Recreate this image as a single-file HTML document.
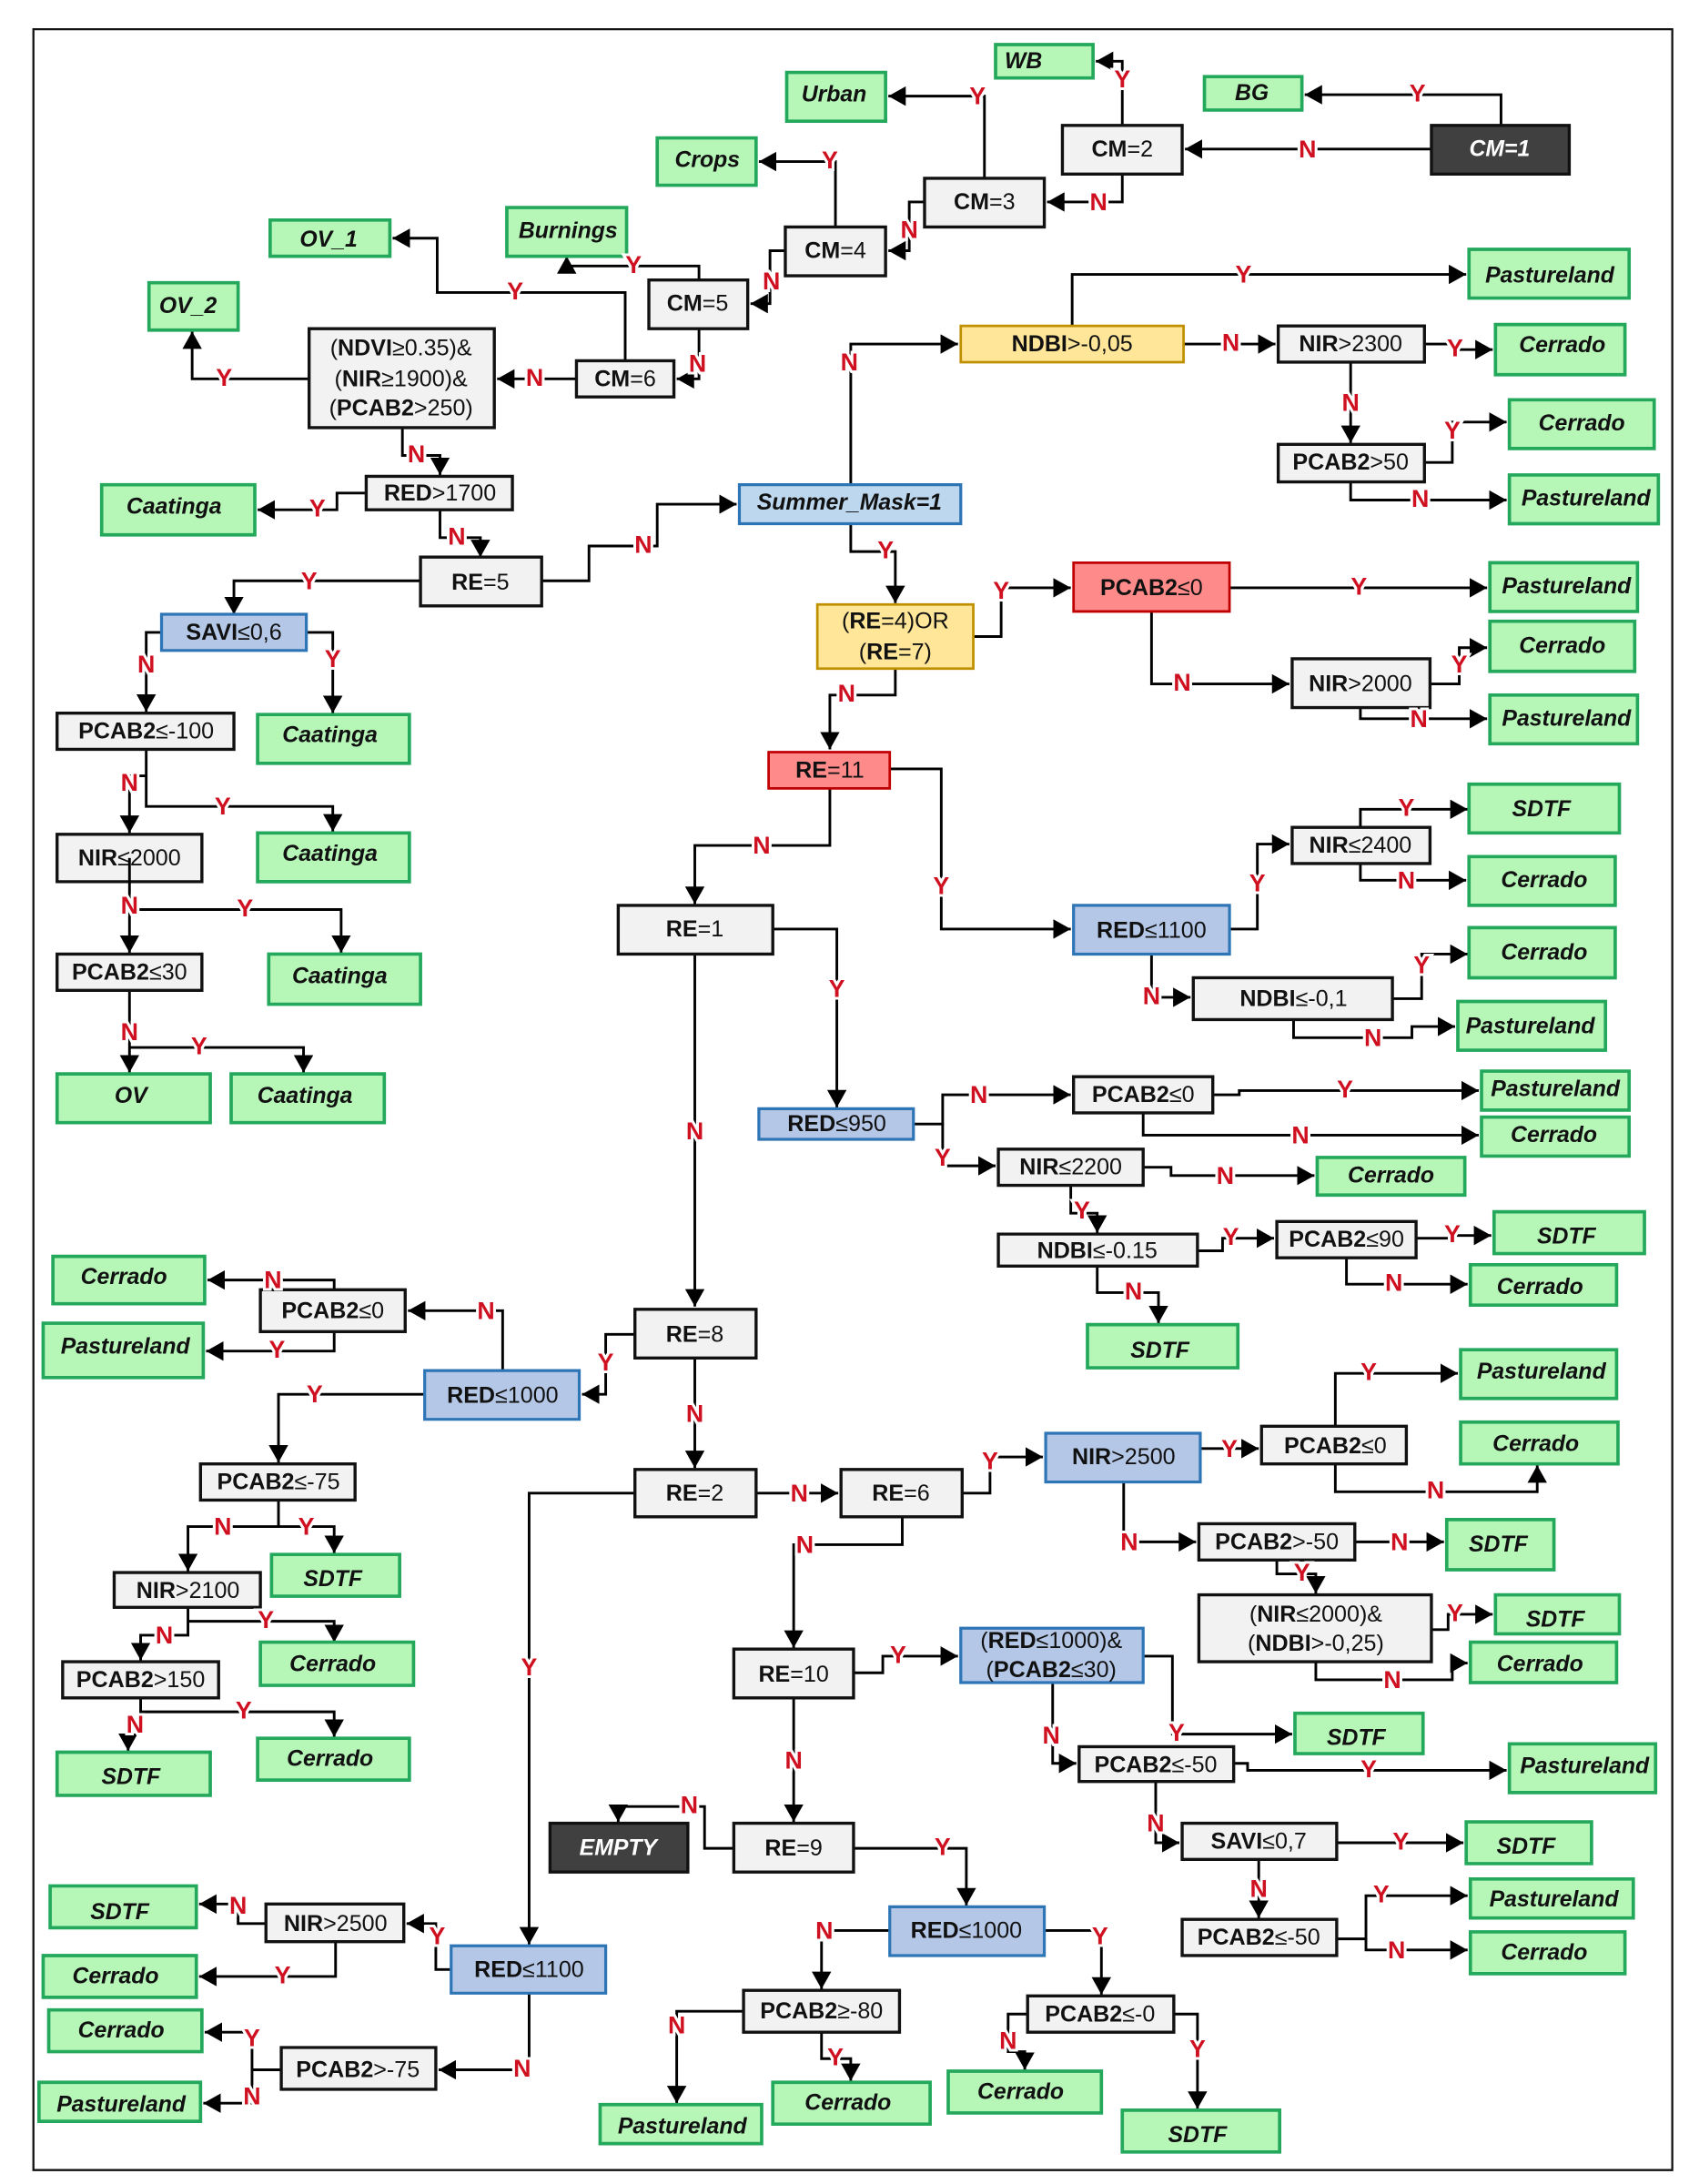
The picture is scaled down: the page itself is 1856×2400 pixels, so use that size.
<!DOCTYPE html>
<html><head><meta charset="utf-8"><style>
html,body{margin:0;padding:0;background:#fff}
svg{display:block;width:1856px;height:2400px}
text{font-family:"Liberation Sans",sans-serif;font-size:16.4px;text-anchor:middle;dominant-baseline:central;fill:#111}
.c path{fill:none;stroke:#000;stroke-width:1.9;marker-end:url(#a)}
.n path{fill:none;stroke:#000;stroke-width:1.9}
.g path{fill:#b6f7b8;stroke:#23a85c;stroke-width:2.4}
.w path{fill:#f2f2f2;stroke:#111;stroke-width:2.2}
.b path{fill:#b4c7e7;stroke:#2e75b6;stroke-width:2.1}
.y path{fill:#ffe699;stroke:#bf9000;stroke-width:1.8}
.r path{fill:#ff8a8a;stroke:#c00000;stroke-width:1.8}
.d path{fill:#404040;stroke:#111;stroke-width:2.2}
.gt text{font-weight:700;font-style:italic;font-size:16.2px}
.l text{font-weight:700;font-size:17.5px;fill:#cf1020;stroke:#fff;stroke-width:4;paint-order:stroke}
</style></head><body>
<svg xmlns="http://www.w3.org/2000/svg" viewBox="0 0 1213 1568" preserveAspectRatio="none">
<defs><marker id="a" markerUnits="userSpaceOnUse" markerWidth="13" markerHeight="14" refX="12.5" refY="7" orient="auto"><path d="M0 0L12.5 7L0 14Z" fill="#000"/></marker></defs>
<rect width="1213" height="1568" fill="#fff"/>
<path d="M24 21H1201V1558H24Z" fill="none" stroke="#111" stroke-width="1.5"/>

<g class="c">
<path d="M1078 90V68H937"/><path d="M1028 107H851"/><path d="M806 90V44H787"/><path d="M806 125V145H752"/>
<path d="M707 128V69H638"/><path d="M664 145H653V180H638"/><path d="M600 163V116H545"/><path d="M564 180H553V218H539"/>
<path d="M502 201V191H407V184"/><path d="M502 236V272H486"/><path d="M449 259V210H314V171H282"/><path d="M414 272H357"/>
<path d="M222 272H138V238"/><path d="M289 307V327H316V341"/><path d="M263 354H242V366H185"/><path d="M316 366V386H345V400"/>
<path d="M302 417H168V441"/><path d="M389 417H423V392H472V362H529"/><path d="M116 454H105V511"/><path d="M220 454H239V512"/>
<path d="M105 538V579H239V597"/><path d="M105 557H93V598"/><path d="M93 653H245V684"/><path d="M93 653V684"/>
<path d="M93 711V770"/><path d="M93 752H218V770"/><path d="M611 348V247H688"/><path d="M770 234V197H1053"/>
<path d="M850 247H916"/><path d="M1023 247H1043V251H1072"/><path d="M970 260V318"/><path d="M1023 332H1043V303H1082"/>
<path d="M970 346V359H1082"/><path d="M611 376V396H643V433"/><path d="M699 457H719V422H769"/><path d="M883 422H1068"/>
<path d="M827 439V491H926"/><path d="M1027 491H1048V465H1068"/><path d="M977 508V516H1068"/><path d="M643 480V499H596V538"/>
<path d="M596 566V607H499V649"/><path d="M639 552H676V667H769"/><path d="M883 667H903V606H926"/><path d="M977 594V581H1054"/>
<path d="M977 620V632H1053"/><path d="M827 685V716H855"/><path d="M1000 717H1021V685H1054"/><path d="M929 732V745H1014V737H1045"/>
<path d="M499 685V938"/><path d="M555 667H601V795"/><path d="M656 807H677V786H769"/><path d="M677 807V837H715"/>
<path d="M871 786H890V783H1062"/><path d="M821 799V815H1062"/><path d="M821 838H841V844H944"/><path d="M769 851V871H788V885"/>
<path d="M860 898H878V889H915"/><path d="M1017 889H1043V887H1071"/><path d="M967 903V922H1054"/><path d="M788 909V928H832V950"/>
<path d="M456 958H435V1001H418"/><path d="M499 975V1054"/><path d="M361 984V941H293"/><path d="M240 926V919H149"/>
<path d="M240 956V970H148"/><path d="M305 1001H200V1050"/><path d="M200 1077V1096H135V1128"/><path d="M200 1096H240V1115"/>
<path d="M135 1154V1174H101V1192"/><path d="M135 1164H240V1179"/><path d="M101 1219V1229H240V1247"/><path d="M92 1246V1257"/>
<path d="M456 1072H380V1396"/><path d="M543 1072H602"/><path d="M691 1072H711V1046H749"/><path d="M648 1089V1109H570V1183"/>
<path d="M862 1040H904"/><path d="M959 1024V986H1047"/><path d="M959 1051V1071H1104V1052"/><path d="M807 1064V1107H859"/>
<path d="M973 1107H1037"/><path d="M917 1120V1130H945V1144"/><path d="M1028 1170H1040V1159H1072"/><path d="M945 1193V1206H1043V1194H1054"/>
<path d="M613 1201H634V1189H688"/><path d="M821 1189H842V1245H928"/><path d="M756 1208V1266H773"/><path d="M886 1266H896V1271H1082"/>
<path d="M830 1279V1323H847"/><path d="M960 1323H1051"/><path d="M904 1335V1377"/><path d="M960 1392H981V1361H1054"/>
<path d="M981 1392V1400H1054"/><path d="M570 1219V1308"/><path d="M527 1327H506V1297H444V1308"/><path d="M613 1327H694V1368"/>
<path d="M639 1386H590V1428"/><path d="M750 1386H791V1432"/><path d="M534 1444H486V1510"/><path d="M590 1459V1478H611V1494"/>
<path d="M738 1446H724V1473H736V1486"/><path d="M843 1446H860V1514"/><path d="M324 1414H313V1381H292"/><path d="M380 1431V1486H315"/>
<path d="M191 1381H171V1367H143"/><path d="M241 1394V1419H143"/><path d="M202 1486H181V1459H147"/><path d="M181 1486V1510H146"/>
</g>

<g class="g">
<path d="M715 32H785V56H715Z"/><path d="M565 52H636V87H565Z"/><path d="M865 55H935V79H865Z"/><path d="M472 99H543V133H472Z"/>
<path d="M364 149H450V184H364Z"/><path d="M194 158H280V184H194Z"/><path d="M107 203H171V237H107Z"/><path d="M1055 179H1170V214H1055Z"/>
<path d="M1074 233H1167V269H1074Z"/><path d="M1084 287H1188V322H1084Z"/><path d="M1084 341H1191V376H1084Z"/><path d="M1070 404H1176V439H1070Z"/>
<path d="M1070 446H1174V482H1070Z"/><path d="M1070 499H1176V534H1070Z"/><path d="M73 348H183V384H73Z"/><path d="M185 513H294V548H185Z"/>
<path d="M185 598H294V633H185Z"/><path d="M193 685H302V721H193Z"/><path d="M41 771H151V806H41Z"/><path d="M166 771H276V806H166Z"/>
<path d="M1055 563H1163V598H1055Z"/><path d="M1055 615H1160V650H1055Z"/><path d="M1055 666H1160V702H1055Z"/><path d="M1047 719H1153V754H1047Z"/>
<path d="M1064 769H1170V797H1064Z"/><path d="M1064 802H1170V830H1064Z"/><path d="M946 831H1052V858H946Z"/><path d="M1073 870H1181V900H1073Z"/>
<path d="M1056 908H1161V937H1056Z"/><path d="M781 951H889V982H781Z"/><path d="M1049 969H1161V1004H1049Z"/><path d="M1049 1021H1162V1051H1049Z"/>
<path d="M1039 1091H1116V1127H1039Z"/><path d="M1074 1145H1163V1173H1074Z"/><path d="M1056 1179H1161V1208H1056Z"/><path d="M930 1230H1022V1259H930Z"/>
<path d="M1084 1252H1189V1287H1084Z"/><path d="M1053 1308H1143V1338H1053Z"/><path d="M1056 1349H1173V1377H1056Z"/><path d="M1056 1387H1167V1417H1056Z"/>
<path d="M38 902H147V936H38Z"/><path d="M31 950H146V989H31Z"/><path d="M195 1116H287V1146H195Z"/><path d="M187 1179H297V1210H187Z"/>
<path d="M185 1248H294V1278H185Z"/><path d="M41 1258H151V1289H41Z"/><path d="M36 1354H141V1384H36Z"/><path d="M31 1404H141V1434H31Z"/>
<path d="M35 1443H145V1473H35Z"/><path d="M28 1495H144V1523H28Z"/><path d="M431 1511H547V1539H431Z"/><path d="M555 1495H668V1525H555Z"/>
<path d="M681 1487H791V1517H681Z"/><path d="M806 1515H919V1545H806Z"/>
</g>
<g class="w">
<path d="M763 90H849V125H763Z"/><path d="M664 128H750V163H664Z"/><path d="M564 163H636V198H564Z"/><path d="M466 201H537V236H466Z"/>
<path d="M414 259H484V285H414Z"/><path d="M222 236H355V307H222Z"/><path d="M263 342H368V366H263Z"/><path d="M302 400H389V435H302Z"/>
<path d="M41 512H168V538H41Z"/><path d="M41 599H145V633H41Z"/><path d="M41 685H145V711H41Z"/><path d="M918 234H1023V260H918Z"/>
<path d="M918 319H1023V346H918Z"/><path d="M928 473H1027V508H928Z"/><path d="M928 594H1027V620H928Z"/><path d="M857 702H1000V732H857Z"/>
<path d="M444 650H555V685H444Z"/><path d="M771 773H871V799H771Z"/><path d="M717 825H821V851H717Z"/><path d="M717 886H860V909H717Z"/>
<path d="M917 877H1017V903H917Z"/><path d="M456 940H543V975H456Z"/><path d="M187 926H291V956H187Z"/><path d="M144 1051H255V1077H144Z"/>
<path d="M82 1129H187V1154H82Z"/><path d="M45 1193H157V1219H45Z"/><path d="M456 1055H543V1089H456Z"/><path d="M604 1055H691V1089H604Z"/>
<path d="M906 1024H1010V1051H906Z"/><path d="M861 1094H973V1120H861Z"/><path d="M861 1145H1028V1193H861Z"/><path d="M527 1184H613V1219H527Z"/>
<path d="M775 1254H886V1279H775Z"/><path d="M849 1309H960V1335H849Z"/><path d="M849 1378H960V1404H849Z"/><path d="M527 1309H613V1344H527Z"/>
<path d="M191 1367H290V1394H191Z"/><path d="M202 1470H313V1500H202Z"/><path d="M534 1429H646V1459H534Z"/><path d="M738 1433H843V1459H738Z"/>
</g>
<g class="b">
<path d="M116 441H220V467H116Z"/><path d="M531 348H690V376H531Z" style="fill:#bdd7ee"/><path d="M771 650H883V685H771Z"/><path d="M545 796H656V818H545Z"/>
<path d="M305 984H416V1019H305Z"/><path d="M751 1029H862V1064H751Z"/><path d="M690 1169H821V1208H690Z"/><path d="M324 1397H435V1431H324Z"/><path d="M639 1369H750V1404H639Z"/>
</g>
<g class="y"><path d="M690 234H850V260H690Z"/><path d="M587 434H699V480H587Z"/></g>
<g class="r"><path d="M771 404H883V439H771Z"/><path d="M552 540H639V566H552Z"/></g>
<g class="d"><path d="M1028 90H1127V125H1028Z"/><path d="M395 1309H494V1344H395Z"/></g>

<g class="gt">
<text x="735" y="44">WB</text><text x="599" y="68">Urban</text><text x="899" y="67">BG</text><text x="508" y="115">Crops</text>
<text x="408" y="166">Burnings</text><text x="236" y="172">OV_1</text><text x="135" y="220">OV_2</text><text x="1113" y="198">Pastureland</text>
<text x="1122" y="248">Cerrado</text><text x="1136" y="304">Cerrado</text><text x="1139" y="358">Pastureland</text><text x="1125" y="421">Pastureland</text>
<text x="1122" y="464">Cerrado</text><text x="1125" y="516">Pastureland</text><text x="125" y="364">Caatinga</text><text x="237" y="528">Caatinga</text>
<text x="237" y="613">Caatinga</text><text x="244" y="701">Caatinga</text><text x="94" y="787">OV</text><text x="219" y="787">Caatinga</text>
<text x="1107" y="581">SDTF</text><text x="1109" y="632">Cerrado</text><text x="1109" y="684">Cerrado</text><text x="1099" y="737">Pastureland</text>
<text x="1117" y="782">Pastureland</text><text x="1116" y="815">Cerrado</text><text x="999" y="844">Cerrado</text><text x="1125" y="888">SDTF</text>
<text x="1106" y="924">Cerrado</text><text x="833" y="970">SDTF</text><text x="1107" y="985">Pastureland</text><text x="1103" y="1037">Cerrado</text>
<text x="1076" y="1109">SDTF</text><text x="1117" y="1163">SDTF</text><text x="1106" y="1195">Cerrado</text><text x="974" y="1248">SDTF</text>
<text x="1138" y="1268">Pastureland</text><text x="1096" y="1326">SDTF</text><text x="1116" y="1364">Pastureland</text><text x="1109" y="1402">Cerrado</text>
<text x="89" y="917">Cerrado</text><text x="90" y="967">Pastureland</text><text x="239" y="1134">SDTF</text><text x="239" y="1195">Cerrado</text>
<text x="237" y="1263">Cerrado</text><text x="94" y="1276">SDTF</text><text x="86" y="1373">SDTF</text><text x="83" y="1419">Cerrado</text>
<text x="87" y="1458">Cerrado</text><text x="87" y="1511">Pastureland</text><text x="490" y="1527">Pastureland</text><text x="609" y="1510">Cerrado</text>
<text x="733" y="1502">Cerrado</text><text x="860" y="1533">SDTF</text>
<text x="610" y="361">Summer_Mask=1</text>
<text x="1077" y="107" style="fill:#fff">CM=1</text><text x="444" y="1327" style="fill:#fff">EMPTY</text>
</g>

<g>
<text x="806" y="107"><tspan font-weight="700">CM</tspan>=2</text>
<text x="707" y="145"><tspan font-weight="700">CM</tspan>=3</text>
<text x="600" y="180"><tspan font-weight="700">CM</tspan>=4</text>
<text x="501" y="218"><tspan font-weight="700">CM</tspan>=5</text>
<text x="449" y="272"><tspan font-weight="700">CM</tspan>=6</text>
<text x="288" y="250">(<tspan font-weight="700">NDVI</tspan>≥0.35)&amp;</text>
<text x="288" y="272">(<tspan font-weight="700">NIR</tspan>≥1900)&amp;</text>
<text x="288" y="293">(<tspan font-weight="700">PCAB2</tspan>&gt;250)</text>
<text x="316" y="354"><tspan font-weight="700">RED</tspan>&gt;1700</text>
<text x="345" y="418"><tspan font-weight="700">RE</tspan>=5</text>
<text x="168" y="454"><tspan font-weight="700">SAVI</tspan>≤0,6</text>
<text x="105" y="525"><tspan font-weight="700">PCAB2</tspan>≤-100</text>
<text x="93" y="616"><tspan font-weight="700">NIR</tspan>≤2000</text>
<text x="93" y="698"><tspan font-weight="700">PCAB2</tspan>≤30</text>
<text x="770" y="247"><tspan font-weight="700">NDBI</tspan>&gt;-0,05</text>
<text x="970" y="247"><tspan font-weight="700">NIR</tspan>&gt;2300</text>
<text x="970" y="332"><tspan font-weight="700">PCAB2</tspan>&gt;50</text>
<text x="827" y="422"><tspan font-weight="700">PCAB2</tspan>≤0</text>
<text x="643" y="446">(<tspan font-weight="700">RE</tspan>=4)OR</text>
<text x="643" y="468">(<tspan font-weight="700">RE</tspan>=7)</text>
<text x="977" y="491"><tspan font-weight="700">NIR</tspan>&gt;2000</text>
<text x="596" y="553"><tspan font-weight="700">RE</tspan>=11</text>
<text x="977" y="607"><tspan font-weight="700">NIR</tspan>≤2400</text>
<text x="499" y="667"><tspan font-weight="700">RE</tspan>=1</text>
<text x="827" y="668"><tspan font-weight="700">RED</tspan>≤1100</text>
<text x="929" y="717"><tspan font-weight="700">NDBI</tspan>≤-0,1</text>
<text x="601" y="807"><tspan font-weight="700">RED</tspan>≤950</text>
<text x="821" y="786"><tspan font-weight="700">PCAB2</tspan>≤0</text>
<text x="769" y="838"><tspan font-weight="700">NIR</tspan>≤2200</text>
<text x="788" y="898"><tspan font-weight="700">NDBI</tspan>≤-0.15</text>
<text x="967" y="890"><tspan font-weight="700">PCAB2</tspan>≤90</text>
<text x="499" y="958"><tspan font-weight="700">RE</tspan>=8</text>
<text x="239" y="941"><tspan font-weight="700">PCAB2</tspan>≤0</text>
<text x="361" y="1002"><tspan font-weight="700">RED</tspan>≤1000</text>
<text x="200" y="1064"><tspan font-weight="700">PCAB2</tspan>≤-75</text>
<text x="135" y="1142"><tspan font-weight="700">NIR</tspan>&gt;2100</text>
<text x="101" y="1206"><tspan font-weight="700">PCAB2</tspan>&gt;150</text>
<text x="499" y="1072"><tspan font-weight="700">RE</tspan>=2</text>
<text x="647" y="1072"><tspan font-weight="700">RE</tspan>=6</text>
<text x="807" y="1046"><tspan font-weight="700">NIR</tspan>&gt;2500</text>
<text x="959" y="1038"><tspan font-weight="700">PCAB2</tspan>≤0</text>
<text x="917" y="1107"><tspan font-weight="700">PCAB2</tspan>&gt;-50</text>
<text x="945" y="1159">(<tspan font-weight="700">NIR</tspan>≤2000)&amp;</text>
<text x="945" y="1180">(<tspan font-weight="700">NDBI</tspan>&gt;-0,25)</text>
<text x="755" y="1178">(<tspan font-weight="700">RED</tspan>≤1000)&amp;</text>
<text x="755" y="1199">(<tspan font-weight="700">PCAB2</tspan>≤30)</text>
<text x="570" y="1202"><tspan font-weight="700">RE</tspan>=10</text>
<text x="830" y="1267"><tspan font-weight="700">PCAB2</tspan>≤-50</text>
<text x="904" y="1322"><tspan font-weight="700">SAVI</tspan>≤0,7</text>
<text x="904" y="1391"><tspan font-weight="700">PCAB2</tspan>≤-50</text>
<text x="570" y="1327"><tspan font-weight="700">RE</tspan>=9</text>
<text x="694" y="1386"><tspan font-weight="700">RED</tspan>≤1000</text>
<text x="241" y="1381"><tspan font-weight="700">NIR</tspan>&gt;2500</text>
<text x="380" y="1414"><tspan font-weight="700">RED</tspan>≤1100</text>
<text x="257" y="1486"><tspan font-weight="700">PCAB2</tspan>&gt;-75</text>
<text x="590" y="1444"><tspan font-weight="700">PCAB2</tspan>≥-80</text>
<text x="790" y="1446"><tspan font-weight="700">PCAB2</tspan>≤-0</text>
</g>
<g class="n"><path d="M93 616V653"/></g>

<g class="l">
<text x="1018" y="67">Y</text><text x="939" y="107">N</text><text x="806" y="57">Y</text><text x="789" y="145">N</text><text x="702" y="69">Y</text><text x="653" y="165">N</text>
<text x="596" y="115">Y</text><text x="554" y="202">N</text><text x="455" y="190">Y</text><text x="501" y="261">N</text><text x="370" y="209">Y</text><text x="384" y="271">N</text>
<text x="161" y="271">Y</text><text x="299" y="326">N</text><text x="228" y="365">Y</text><text x="328" y="385">N</text><text x="222" y="417">Y</text><text x="462" y="391">N</text>
<text x="105" y="477">N</text><text x="239" y="473">Y</text><text x="160" y="579">Y</text><text x="93" y="562">N</text><text x="176" y="652">Y</text><text x="93" y="650">N</text>
<text x="93" y="741">N</text><text x="143" y="751">Y</text><text x="610" y="260">N</text><text x="893" y="197">Y</text><text x="884" y="246">N</text><text x="1045" y="250">Y</text>
<text x="970" y="289">N</text><text x="1043" y="309">Y</text><text x="1020" y="358">N</text><text x="636" y="395">Y</text><text x="719" y="424">Y</text><text x="976" y="421">Y</text>
<text x="849" y="490">N</text><text x="1048" y="477">Y</text><text x="1019" y="516">N</text><text x="608" y="498">N</text><text x="547" y="607">N</text><text x="676" y="636">Y</text>
<text x="903" y="634">Y</text><text x="1010" y="580">Y</text><text x="1010" y="632">N</text><text x="827" y="715">N</text><text x="1021" y="693">Y</text><text x="986" y="745">N</text>
<text x="499" y="812">N</text><text x="601" y="710">Y</text><text x="703" y="786">N</text><text x="677" y="831">Y</text><text x="966" y="782">Y</text><text x="934" y="815">N</text>
<text x="880" y="844">N</text><text x="777" y="869">Y</text><text x="884" y="888">Y</text><text x="1043" y="886">Y</text><text x="1001" y="921">N</text><text x="814" y="927">N</text>
<text x="435" y="978">Y</text><text x="499" y="1015">N</text><text x="349" y="941">N</text><text x="196" y="919">N</text><text x="199" y="969">Y</text><text x="226" y="1001">Y</text>
<text x="160" y="1096">N</text><text x="220" y="1096">Y</text><text x="118" y="1174">N</text><text x="191" y="1163">Y</text><text x="175" y="1228">Y</text><text x="97" y="1238">N</text>
<text x="380" y="1197">Y</text><text x="574" y="1072">N</text><text x="711" y="1049">Y</text><text x="578" y="1109">N</text><text x="883" y="1040">Y</text><text x="983" y="985">Y</text>
<text x="1031" y="1070">N</text><text x="811" y="1107">N</text><text x="1005" y="1107">N</text><text x="935" y="1129">Y</text><text x="1045" y="1158">Y</text><text x="1000" y="1206">N</text>
<text x="645" y="1188">Y</text><text x="845" y="1244">Y</text><text x="755" y="1246">N</text><text x="983" y="1270">Y</text><text x="830" y="1309">N</text><text x="1006" y="1322">Y</text>
<text x="904" y="1356">N</text><text x="992" y="1360">Y</text><text x="1003" y="1400">N</text><text x="570" y="1264">N</text><text x="495" y="1296">N</text><text x="677" y="1326">Y</text>
<text x="592" y="1386">N</text><text x="790" y="1390">Y</text><text x="486" y="1454">N</text><text x="600" y="1477">Y</text><text x="724" y="1465">N</text><text x="860" y="1471">Y</text>
<text x="314" y="1390">Y</text><text x="375" y="1485">N</text><text x="171" y="1368">N</text><text x="203" y="1418">Y</text><text x="181" y="1463">Y</text><text x="181" y="1505">N</text>
</g>
</svg>
</body></html>
